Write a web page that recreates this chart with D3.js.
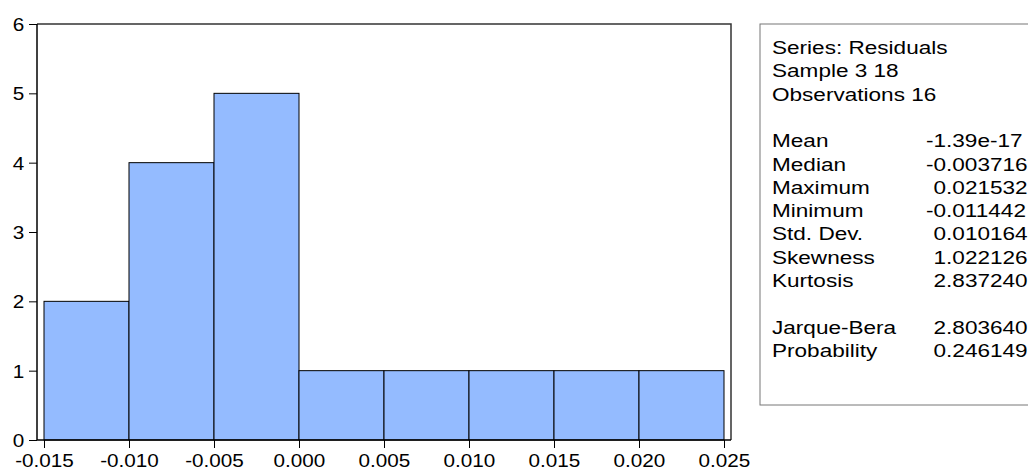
<!DOCTYPE html>
<html>
<head>
<meta charset="utf-8">
<script src="https://cdn.jsdelivr.net/npm/d3@7"></script>
<style>
  body { margin: 0; background: #fff; }
  text { font-family: "Liberation Sans", Arial, sans-serif; fill: #000; }
</style>
</head>
<body>
<div id="chart"></div>
<script>
// histogram bins (residuals)
var binStarts = [-0.015, -0.010, -0.005, 0.000, 0.005, 0.010, 0.015, 0.020];
var binWidth = 0.005;
var counts = [2, 4, 5, 1, 1, 1, 1, 1];

var xTicks = [-0.015, -0.010, -0.005, 0.000, 0.005, 0.010, 0.015, 0.020, 0.025];
var yTicks = [0, 1, 2, 3, 4, 5, 6];

var headerLines = ["Series: Residuals", "Sample 3 18", "Observations 16"];
var statLabels = ["Mean", "Median", "Maximum", "Minimum", "Std. Dev.", "Skewness", "Kurtosis", "", "Jarque-Bera", "Probability"];
var statValues = ["-1.39e-17", "-0.003716", "0.021532", "-0.011442", "0.010164", "1.022126", "2.837240", "", "2.803640", "0.246149"];

var width = 1028, height = 471;
var stretch = 1.15;   // text in the source image is wider than normal

var svg = d3.select("#chart").append("svg")
    .attr("width", width)
    .attr("height", height);

var x = d3.scaleLinear().domain([-0.015, 0.025]).range([44, 724]);
var y = d3.scaleLinear().domain([0, 6]).range([440, 24]);

var plotLeft = 37, plotRight = 731;

// bars
svg.append("g")
    .selectAll("rect")
    .data(counts)
    .join("rect")
    .attr("x", function (d, i) { return x(binStarts[i]); })
    .attr("y", function (d) { return y(d); })
    .attr("width", function (d, i) { return x(binStarts[i] + binWidth) - x(binStarts[i]); })
    .attr("height", function (d) { return y(0) - y(d); })
    .attr("fill", "#94bbff")
    .attr("stroke", "#000")
    .attr("stroke-width", 1);

// frame (top and right)
svg.append("path")
    .attr("d", "M" + plotLeft + "," + y(6) + "H" + plotRight + "V" + y(0))
    .attr("fill", "none")
    .attr("stroke", "#333")
    .attr("stroke-width", 1.5);

var fmt = d3.format(".3f");

var xAxis = svg.append("g")
    .attr("transform", "translate(0," + y(0) + ")")
    .call(d3.axisBottom(x).tickValues(xTicks).tickSize(8).tickPadding(4)
        .tickFormat(function (d) { return fmt(d).replace("\u2212", "-"); }));

var yAxis = svg.append("g")
    .attr("transform", "translate(" + plotLeft + ",0)")
    .call(d3.axisLeft(y).tickValues(yTicks).tickSize(8).tickPadding(3).tickFormat(d3.format("d")));

[xAxis, yAxis].forEach(function (a) {
    a.select(".domain").remove();
    a.selectAll("line").attr("stroke", "#000");
    a.selectAll("text")
        .style("font-size", "18px")
        .style("font-family", "'Liberation Sans', Arial, sans-serif")
        .attr("transform", "scale(" + stretch + ",1)");
});
xAxis.selectAll("text").attr("y", 0).attr("dy", "27px");
yAxis.selectAll("text").attr("dy", "0.36em");

// axis lines
svg.append("line")
    .attr("x1", plotLeft).attr("x2", plotRight)
    .attr("y1", y(0)).attr("y2", y(0))
    .attr("stroke", "#000").attr("stroke-width", 1.5);
svg.append("line")
    .attr("x1", plotLeft).attr("x2", plotLeft)
    .attr("y1", y(6)).attr("y2", y(0))
    .attr("stroke", "#000").attr("stroke-width", 1.5);

// statistics box
svg.append("rect")
    .attr("x", 760).attr("y", 24)
    .attr("width", 300).attr("height", 381)
    .attr("fill", "#fff")
    .attr("stroke", "#777")
    .attr("stroke-width", 1);

var lineGap = 23.3, firstBase = 54;
var statStretch = 1.22;
var valueX = 926;

var box = svg.append("g").style("font-size", "18.5px");

// width of a minus sign, so positive numbers line up on their digits
var probe = box.append("text").text("-");
var minusW = probe.node().getComputedTextLength() * statStretch;
probe.remove();

box.selectAll("text.header")
    .data(headerLines)
    .join("text")
    .attr("class", "header")
    .attr("transform", function (d, i) { return "translate(772," + (firstBase + i * lineGap) + ") scale(" + statStretch + ",1)"; })
    .text(function (d) { return d; });

box.selectAll("text.slabel")
    .data(statLabels)
    .join("text")
    .attr("class", "slabel")
    .attr("transform", function (d, i) { return "translate(772," + (firstBase + (i + 4) * lineGap) + ") scale(" + statStretch + ",1)"; })
    .text(function (d) { return d; });

box.selectAll("text.svalue")
    .data(statValues)
    .join("text")
    .attr("class", "svalue")
    .attr("transform", function (d, i) {
        var xx = valueX + (d.charAt(0) === "-" ? 0 : minusW);
        return "translate(" + xx + "," + (firstBase + (i + 4) * lineGap) + ") scale(" + statStretch + ",1)";
    })
    .text(function (d) { return d; });
</script>
</body>
</html>
